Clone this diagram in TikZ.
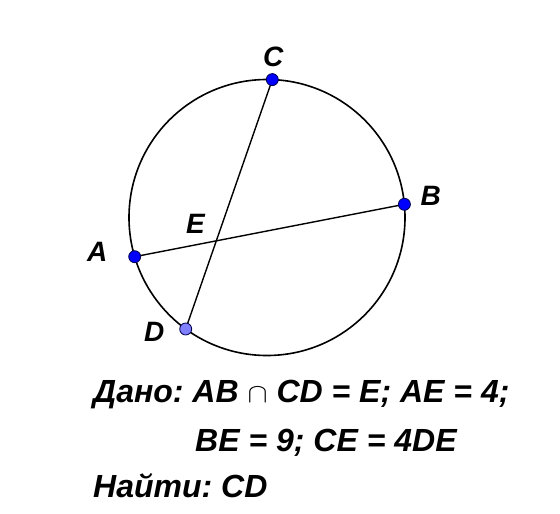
\documentclass[tikz,border=0pt]{standalone}
\usepackage{fontspec}
\setmainfont{Liberation Sans}
\frenchspacing
\definecolor{ptblue}{RGB}{0,0,255}
\definecolor{ptlight}{RGB}{128,128,255}
\newcommand{\capsign}{\resizebox{20pt}{15pt}{$\cap$}}
\tikzset{
  pt/.style={circle, draw=black!70!blue, line width=0.8pt, fill=ptblue, inner sep=0pt, minimum size=12pt},
  ptD/.style={pt, fill=ptlight},
  lbl/.style={anchor=base west, inner sep=0pt, font=\fontsize{28}{32}\selectfont\bfseries\itshape},
  txt/.style={lbl, font=\fontsize{32}{36}\selectfont\bfseries\itshape}
}
\begin{document}
\begin{tikzpicture}[x=1pt, y=-1pt]
  \useasboundingbox (0,0) rectangle (560,514);
  % circle and points on it
  \coordinate (O) at (267,217.5);
  \coordinate (C) at (272.3,79.6);
  \coordinate (B) at (404.4,204.3);
  \coordinate (A) at (134.7,256.7);
  \coordinate (D) at (185.7,329.0);
  \draw[line width=1.6pt] (O) circle[radius=138];
  % chords
  \draw[line width=1.4pt] (A) -- (B);
  \draw[line width=1.4pt] (C) -- (D);
  % dots
  \node[pt] (dotC) at (C) {};
  \node[pt] (dotB) at (B) {};
  \node[pt] (dotA) at (A) {};
  \node[ptD] (dotD) at (D) {};
  % point labels
  \node[lbl] (labC) at (263,66) {C};
  \node[lbl] (labB) at (420.5,205) {B};
  \node[lbl] (labE) at (186,233) {E};
  \node[lbl] (labA) at (87,261.7) {A};
  \node[lbl] (labD) at (144,341.7) {D};
  % given and task
  \node[txt] (given) at (93,402) {Дано: AB \capsign{} CD = E; AE = 4;};
  \node[txt] (given2) at (195,451.7) {BE = 9; CE = 4DE};
  \node[txt] (task) at (93,497.5) {Найти: CD};
\end{tikzpicture}
\end{document}
